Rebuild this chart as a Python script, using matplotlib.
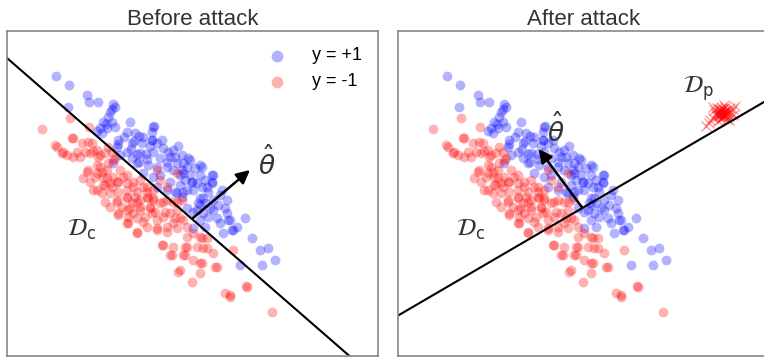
import numpy as np
import matplotlib
matplotlib.use('Agg')
import matplotlib.pyplot as plt

# clean data D_c (arbitrary plot units, y grows downwards)
blue_pts = [
    (168, 228), (207, 256), (262, 285), (268, 305), (295, 307), (203, 322), (340, 312), (345, 320), (330, 335),
    (325, 350), (310, 365), (335, 365), (300, 385), (320, 385), (345, 380), (390, 365), (380, 395), (405, 400),
    (460, 380), (395, 430), (425, 430), (430, 410), (355, 420), (350, 440), (380, 455), (420, 460), (455, 420),
    (490, 445), (535, 438), (460, 455), (480, 475), (510, 470), (530, 490), (470, 500), (445, 495), (410, 490),
    (395, 475), (360, 465), (340, 490), (565, 475), (500, 500), (480, 525), (520, 510), (550, 520), (605, 500),
    (640, 525), (575, 545), (600, 525), (510, 545), (540, 555), (460, 530), (530, 580), (560, 570), (580, 570),
    (600, 595), (615, 610), (625, 575), (635, 545), (660, 585), (680, 600), (655, 615), (640, 630), (610, 640),
    (590, 630), (560, 625), (650, 655), (690, 660), (660, 670), (735, 655), (700, 690), (670, 700), (580, 685),
    (755, 715), (780, 750), (805, 745), (825, 780), (785, 795), (720, 795), (665, 570), (500, 570), (470, 560),
    (430, 520),
    # denser core
    (335, 328), (318, 372), (305, 398), (292, 392), (372, 410), (355, 432), (402, 422), (418, 408), (437, 462),
    (412, 462), (392, 447), (417, 486), (440, 478), (455, 395), (450, 438), (470, 430), (485, 420), (505, 455),
    (520, 450), (545, 465), (500, 485), (525, 470), (560, 500), (585, 505), (570, 525), (555, 540), (590, 550),
    (615, 540), (620, 560), (545, 590), (595, 610), (640, 600), (625, 650), (600, 660), (615, 680), (680, 640),
    (710, 680), (545, 510), (462, 378), (455, 420), (550, 490), (570, 480), (600, 495), (635, 525), (540, 525),
    (575, 545), (605, 560), (635, 550), (550, 575), (525, 575), (610, 595), (630, 625), (600, 615), (580, 635),
    (675, 625), (685, 660), (695, 690),
]
red_pts = [
    (125, 388), (210, 355), (268, 380), (215, 415), (245, 430), (265, 425), (170, 440), (185, 460), (200, 465),
    (220, 470), (240, 470), (255, 455), (270, 460), (290, 450), (295, 470), (315, 460), (325, 440), (340, 480),
    (300, 500), (265, 510), (250, 535), (270, 545), (290, 520), (320, 510), (340, 530), (360, 510), (370, 530),
    (290, 570), (310, 555), (330, 550), (350, 545), (380, 550), (400, 560), (420, 540), (440, 560), (460, 570),
    (330, 580), (350, 600), (380, 590), (405, 590), (420, 600), (440, 590), (460, 600), (480, 610), (500, 600),
    (520, 605), (355, 640), (380, 630), (400, 640), (420, 620), (435, 650), (455, 640), (470, 660), (490, 650),
    (510, 640), (530, 630), (540, 655), (380, 670), (410, 700), (440, 680), (470, 690), (500, 680), (520, 670),
    (560, 680), (580, 700), (600, 710), (620, 715), (490, 735), (520, 740), (560, 740), (590, 740), (510, 765),
    (550, 765), (580, 780), (600, 790), (640, 760), (700, 750), (540, 810), (575, 845), (600, 820), (650, 800),
    (675, 880), (690, 890), (740, 860), (815, 935), (560, 710), (620, 745), (430, 560), (395, 610), (450, 620),
    (345, 475), (310, 530), (470, 510), (480, 540), (500, 560), (530, 520), (545, 600),
    # denser core
    (220, 413), (275, 430), (165, 435), (190, 457), (230, 457), (280, 453), (300, 465), (335, 457), (325, 490),
    (290, 495), (260, 515), (285, 530), (305, 515), (320, 535), (355, 545), (380, 525), (400, 545), (315, 555),
    (335, 560), (280, 570), (305, 580), (355, 575), (380, 570), (410, 575), (440, 575), (315, 605), (350, 605),
    (380, 595), (410, 605), (445, 595), (330, 620), (365, 620), (390, 625), (420, 630), (450, 625), (355, 645),
    (385, 650), (410, 655), (385, 670), (430, 665), (410, 695), (460, 595), (490, 605), (530, 605), (465, 635),
    (495, 635), (525, 655), (550, 660), (470, 685), (500, 695), (530, 685), (605, 715), (485, 735), (555, 740),
    (610, 745), (515, 765), (555, 765), (605, 790), (645, 800), (535, 815), (690, 885), (738, 857),
]

# poisoned data D_p: tight cluster of crosses
dp_center = (993, 339)
dp_offsets = [
    (0, 0), (5, -4), (-4, 3), (8, 5), (-7, -6), (3, 9), (-2, -9), (10, -2), (-10, 2), (4, -11), (-6, 10),
    (12, 7), (-12, -3), (1, 13), (13, -8), (-13, 8), (7, 12), (-8, -12), (6, 2), (-3, -5), (2, 6), (-5, 1),
    (9, -6), (-9, 5), (17, 1), (-17, -1), (0, -16), (19, -7), (-19, 6), (10, -17), (-4, 18), (22, 10),
    (-23, -8), (15, 17), (-15, -15), (27, -3), (-28, 14), (24, -15), (-11, 23), (5, -23), (-35, 20), (32, 5),
    (-26, -18), (20, 21), (-40, 30), (34, -12), (-48, 40), (40, -20),
]

# decision boundaries (two points each) and theta_hat arrows (base, tip)
line_before = [(22, 175), (1045, 1065)]
line_after = [(24, 945), (1119, 306)]
theta_before = [(578, 655), (750, 510)]
theta_after = [(573, 622), (443, 447)]

xlim = (21, 1134)
ylim = (1068, 93)

plt.rcParams['font.family'] = ['Liberation Sans', 'DejaVu Sans']

fig = plt.figure(figsize=(7.64, 3.57), dpi=100)
ax1 = fig.add_axes([7 / 764, 1 / 357, 371 / 764, 325 / 357])
ax2 = fig.add_axes([398 / 764, 1 / 357, 371 / 764, 325 / 357])

bx, by = zip(*blue_pts)
rx, ry = zip(*red_pts)


def draw_clean(ax):
    ax.scatter(bx, by, s=50, color='blue', alpha=0.3, linewidths=0, label='y = +1')
    ax.scatter(rx, ry, s=50, color='red', alpha=0.3, linewidths=0, label='y = -1')


def draw_line(ax, pts):
    ax.axline(pts[0], pts[1], color='black', lw=1.5)


def draw_theta(ax, pts):
    base, tip = pts
    ax.annotate('', xy=tip, xytext=base,
                arrowprops=dict(arrowstyle='-|>', color='black', lw=1.8, mutation_scale=20,
                                shrinkA=0, shrinkB=0))


for ax, title in [(ax1, 'Before attack'), (ax2, 'After attack')]:
    draw_clean(ax)
    ax.set_xlim(*xlim)
    ax.set_ylim(*ylim)
    ax.set_xticks([])
    ax.set_yticks([])
    for sp in ax.spines.values():
        sp.set_color('#888888')
        sp.set_linewidth(1.2)
    ax.set_title(title, fontsize=16, pad=4, color='#333333')

draw_line(ax1, line_before)
draw_theta(ax1, theta_before)
ax1.text(800, 490, r'$\hat{\theta}$', fontsize=19, ha='center', va='center', color='#333333')
ax1.text(245, 690, r'$\mathcal{D}_{\mathrm{c}}$', fontsize=17, ha='center', va='center', color='#333333')
ax1.legend(loc='upper right', frameon=False, fontsize=13, handletextpad=0.9, scatterpoints=1,
           markerscale=1.2)

dp_x = [dp_center[0] + dx for dx, dy in dp_offsets]
dp_y = [dp_center[1] + dy for dx, dy in dp_offsets]
ax2.plot(dp_x, dp_y, 'x', color='red', alpha=0.4, ms=7, mew=0.9)
draw_line(ax2, line_after)
draw_theta(ax2, theta_after)
ax2.text(493, 390, r'$\hat{\theta}$', fontsize=19, ha='center', va='center', color='#333333')
ax2.text(238, 690, r'$\mathcal{D}_{\mathrm{c}}$', fontsize=17, ha='center', va='center', color='#333333')
ax2.text(923, 265, r'$\mathcal{D}_{\mathrm{p}}$', fontsize=17, ha='center', va='center', color='#333333')

fig.savefig('out.png', dpi=100)
